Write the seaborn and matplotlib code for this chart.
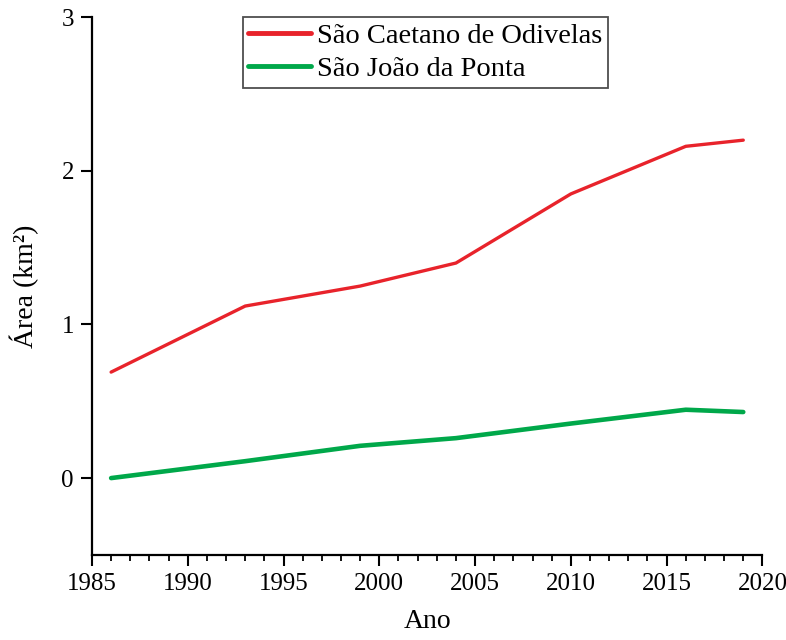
import matplotlib
matplotlib.use("Agg")
import matplotlib.pyplot as plt
from matplotlib.ticker import MultipleLocator
import seaborn as sns
import pandas as pd

# Mangrove area by year for the two municipalities
anos = [1986, 1993, 1999, 2004, 2010, 2016, 2019]
sao_caetano = [0.69, 1.12, 1.25, 1.40, 1.85, 2.16, 2.20]
sao_joao = [0.00, 0.11, 0.21, 0.26, 0.355, 0.445, 0.43]
series_names = ["São Caetano de Odivelas", "São João da Ponta"]
x_ticks = [1985, 1990, 1995, 2000, 2005, 2010, 2015, 2020]
y_ticks = [0, 1, 2, 3]

df = pd.DataFrame({
    "Ano": anos * 2,
    "Area": sao_caetano + sao_joao,
    "Municipio": [series_names[0]] * len(anos) + [series_names[1]] * len(anos),
})

sns.set_theme(style="ticks")
plt.rcParams["font.family"] = ["Liberation Serif", "DejaVu Serif"]

fig = plt.figure(figsize=(7.86, 6.4), dpi=100)
ax = fig.add_axes([0.117, 0.133, 0.853, 0.840])

palette = {series_names[0]: "#e8232b", series_names[1]: "#00a84a"}
sns.lineplot(data=df, x="Ano", y="Area", hue="Municipio", palette=palette,
             ax=ax, linewidth=2.6)
for line, lw in zip(ax.lines, [2.4, 3.3]):
    line.set_linewidth(lw)
    line.set_solid_capstyle("round")

ax.set_xlim(1985, 2020)
ax.set_ylim(-0.5, 3)
ax.set_xticks(x_ticks)
ax.set_yticks(y_ticks)
ax.xaxis.set_minor_locator(MultipleLocator(1))
ax.tick_params(axis="both", which="major", direction="out", length=8, width=1.5,
               color="black", labelsize=18, labelcolor="black", pad=5)
ax.tick_params(axis="x", which="minor", direction="out", length=4.5, width=1.3,
               color="black")
sns.despine(ax=ax)
for side in ["left", "bottom"]:
    ax.spines[side].set_linewidth(1.6)
    ax.spines[side].set_color("black")

ax.set_xlabel("Ano", fontsize=20, labelpad=10, color="black")
ax.set_ylabel("Área (km²)", fontsize=20, labelpad=16, color="black")

handles, labels = ax.get_legend_handles_labels()
leg = ax.legend(handles, labels, loc="upper center", bbox_to_anchor=(0.497, 1.0),
                fontsize=20.5, frameon=True, fancybox=False, edgecolor="#222222",
                handlelength=2.2, handletextpad=0.2, borderpad=0.2,
                labelspacing=0.25, borderaxespad=0.0)
leg.get_frame().set_linewidth(1.3)
for t in leg.get_texts():
    t.set_color("black")
for h in leg.get_lines():
    h.set_linewidth(3.5)

fig.savefig("out.png", dpi=100, facecolor="white")
